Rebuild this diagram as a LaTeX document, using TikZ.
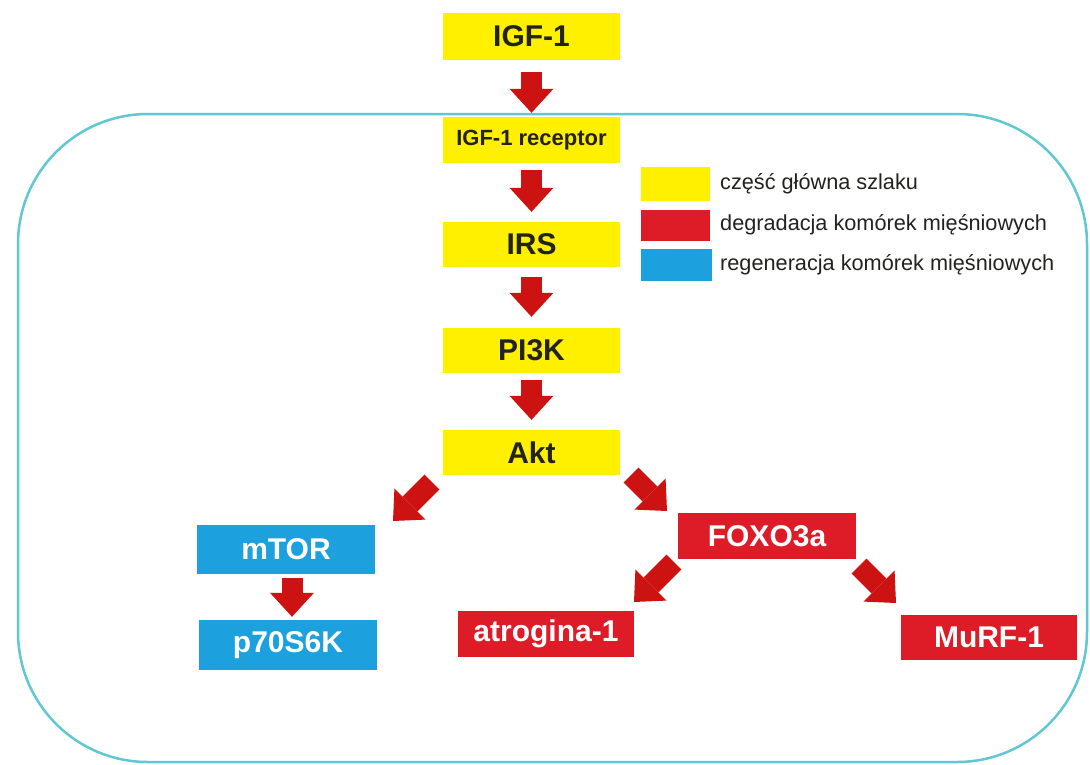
\documentclass[tikz,border=0pt]{standalone}
\usepackage{fontspec}
\setmainfont{Liberation Sans}
\usetikzlibrary{arrows.meta}
\definecolor{boxyellow}{RGB}{255,240,0}
\definecolor{boxred}{RGB}{222,28,40}
\definecolor{boxblue}{RGB}{28,160,222}
\definecolor{arrred}{RGB}{205,18,18}
\definecolor{cellline}{RGB}{95,200,210}
\definecolor{txtdark}{RGB}{35,35,30}
\begin{document}
\begin{tikzpicture}[x=1pt,y=-1pt,
  pbox/.style={rectangle, inner sep=0pt, minimum width=177pt, minimum height=46pt,
     font=\fontsize{30}{36}\selectfont\bfseries},
  ybox/.style={pbox, fill=boxyellow, text=txtdark},
  rbox/.style={pbox, fill=boxred, text=white},
  bbox/.style={pbox, fill=boxblue, text=white},
  bigarrow/.style={draw=arrred, line width=21pt,
     -{Triangle[width=44pt,length=24pt,line width=0pt]}},
  legtext/.style={anchor=west, inner sep=0pt, text=txtdark, font=\fontsize{21.7}{26}\selectfont}
]
\useasboundingbox (0,0) rectangle (1090,764);
\fill[white] (0,0) rectangle (1090,764);

% cell membrane
\draw[cellline, line width=2.5pt, rounded corners=130pt] (18,114) rectangle (1087,762);

% main pathway
\node[ybox, minimum height=47pt] (igf) at (531.5,36.5) {IGF-1};
\node[ybox, font=\fontsize{22}{26}\selectfont\bfseries] (rec) at (531.5,140) {IGF-1 receptor};
\node[ybox, minimum height=45pt] (irs) at (531.5,244.5) {IRS};
\node[ybox, minimum height=45pt] (pik) at (531.5,350.5) {PI3K};
\node[ybox, minimum height=45pt] (akt) at (531.5,452.5) {Akt};

\node[bbox, minimum width=178pt, minimum height=49pt] (mtor) at (286,549.5) {mTOR};
\node[bbox, minimum width=178pt, minimum height=50pt] (p70) at (288,645) {p70S6K};
\node[rbox, minimum width=178pt] (foxo) at (767,536) {FOXO3a};
\node[rbox, minimum width=176pt] (atro) at (546,634) {atrogina-1};
\node[rbox, minimum width=176pt, minimum height=45pt] (murf) at (989,637.5) {MuRF-1};

% legend
\node[rectangle, fill=boxyellow, inner sep=0pt, minimum width=69pt, minimum height=34pt] (ly) at (675.5,184) {};
\node[rectangle, fill=boxred, inner sep=0pt, minimum width=69pt, minimum height=31pt] (lr) at (675.5,225.5) {};
\node[rectangle, fill=boxblue, inner sep=0pt, minimum width=71pt, minimum height=32pt] (lb) at (676.5,265) {};
\node[legtext] (lty) at (720,184) {część główna szlaku};
\node[legtext] (ltr) at (720,225) {degradacja komórek mięśniowych};
\node[legtext] (ltb) at (720,265) {regeneracja komórek mięśniowych};

% vertical arrows
\draw[bigarrow, shorten <=12pt, shorten >=4pt] (igf) -- (rec);
\draw[bigarrow, shorten <=7pt, shorten >=10pt] (rec) -- (irs);
\draw[bigarrow, shorten <=10pt, shorten >=11pt] (irs) -- (pik);
\draw[bigarrow, shorten <=7pt, shorten >=10pt] (pik) -- (akt);
\draw[bigarrow, shorten <=4pt, shorten >=3pt] ([xshift=6pt]mtor.south) -- ([xshift=4pt]p70.north);

% diagonal arrows
\coordinate (d1s) at (432,482);
\coordinate (d1e) at (393,521);
\coordinate (d2s) at (631,475);
\coordinate (d2e) at (667,511);
\coordinate (d3s) at (674,562);
\coordinate (d3e) at (634,602);
\coordinate (d4s) at (859,566);
\coordinate (d4e) at (896,603);
\draw[bigarrow] (d1s) -- (d1e);
\draw[bigarrow] (d2s) -- (d2e);
\draw[bigarrow] (d3s) -- (d3e);
\draw[bigarrow] (d4s) -- (d4e);
\end{tikzpicture}
\end{document}
